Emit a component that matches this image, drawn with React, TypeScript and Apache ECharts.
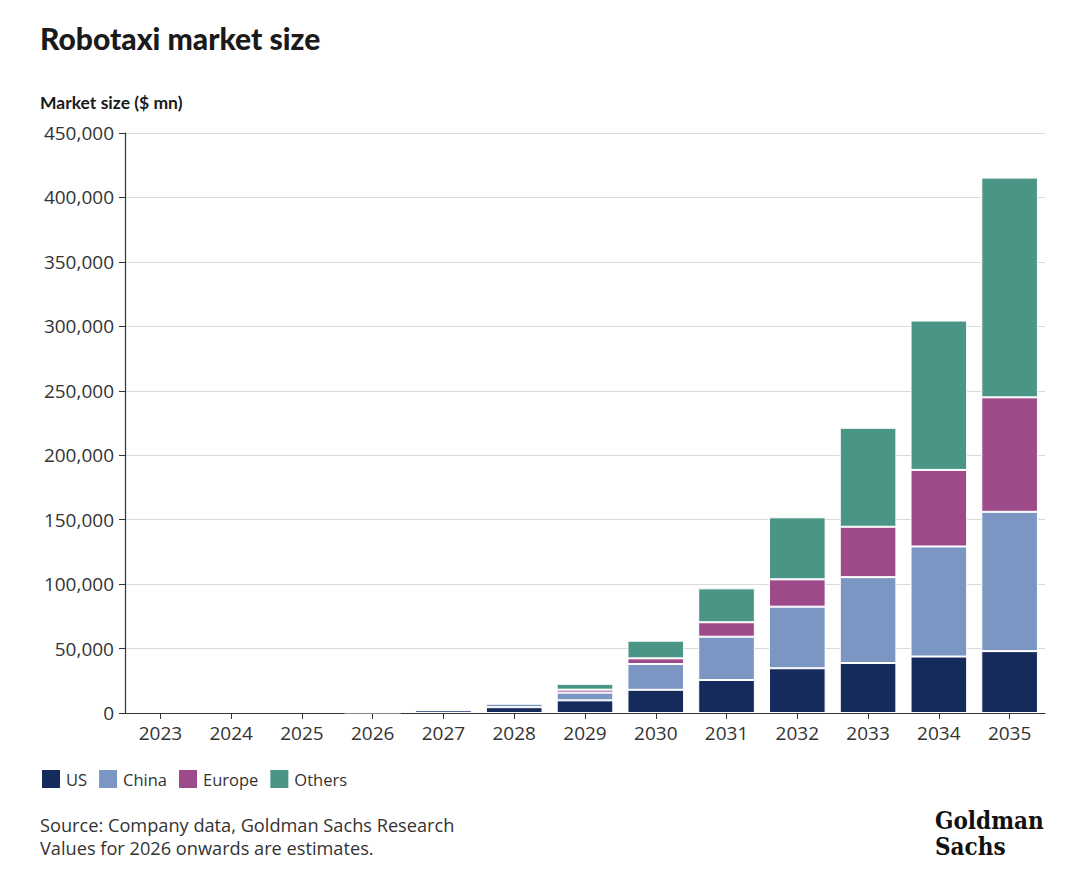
import React, { useEffect, useRef } from "react";
import * as echarts from "echarts";

const years = ["2023", "2024", "2025", "2026", "2027", "2028", "2029", "2030", "2031", "2032", "2033", "2034", "2035"];
const usValues = [0, 0, 0, 400, 2100, 4500, 9800, 18000, 25600, 34700, 38800, 43800, 48000];
const chinaValues = [0, 0, 0, 200, 100, 2700, 6000, 20000, 33600, 47800, 66600, 85400, 108100];
const europeValues = [0, 0, 0, 0, 0, 500, 2300, 4400, 11200, 21200, 39100, 59400, 88800];
const othersValues = [0, 0, 0, 0, 0, 800, 4500, 13700, 26300, 48100, 76800, 115900, 170500];
const seriesNames = ["US", "China", "Europe", "Others"];
const seriesColors = ["#152b5c", "#7b96c2", "#9c4a8a", "#4a9585"];

const FONT = "'Open Sans', 'Noto Sans', sans-serif";

export default function App() {
  const ref = useRef<HTMLDivElement>(null);
  useEffect(() => {
    if (!ref.current) return;
    const chart = echarts.init(ref.current, undefined, { renderer: "svg" });
    const data = [usValues, chinaValues, europeValues, othersValues];
    chart.setOption({
      animation: false,
      backgroundColor: "#ffffff",
      textStyle: { fontFamily: FONT },
      grid: { left: 125, right: 35, top: 133, bottom: 174 },
      legend: {
        left: 40,
        top: 768,
        padding: 0,
        icon: "rect",
        itemWidth: 20,
        itemHeight: 20,
        itemGap: 10,
        textStyle: { fontFamily: FONT, fontSize: 16.5, color: "#333333", padding: [0, 0, 0, 0] },
        data: seriesNames,
      },
      xAxis: {
        type: "category",
        data: years,
        axisLine: { show: true, lineStyle: { color: "#333333", width: 1.2 } },
        axisTick: { show: true, alignWithLabel: true, length: 6, lineStyle: { color: "#333333" } },
        axisLabel: { fontFamily: FONT, fontSize: 19, color: "#333333", margin: 10 },
      },
      yAxis: {
        type: "value",
        min: 0,
        max: 450000,
        interval: 50000,
        axisLine: { show: true, lineStyle: { color: "#333333", width: 1.2 } },
        axisTick: { show: true, length: 6, lineStyle: { color: "#333333" } },
        splitLine: { show: true, lineStyle: { color: "#d9d9d9", width: 1 } },
        axisLabel: {
          fontFamily: FONT,
          fontSize: 19,
          color: "#333333",
          margin: 11,
          formatter: (v: number) => v.toLocaleString("en-US"),
        },
      },
      series: seriesNames.map((name, i) => ({
        name,
        type: "bar",
        stack: "total",
        barCategoryGap: "20%",
        data: data[i].map((v) => (v === 0 ? "-" : v)),
        itemStyle: { color: seriesColors[i], borderColor: "#ffffff", borderWidth: 1 },
      })),
      graphic: [
        {
          type: "text",
          left: 40,
          top: 23,
          style: { text: "Robotaxi market size", font: "900 30px Lato, 'Open Sans', sans-serif", fill: "#1a1a1a" },
        },
        {
          type: "text",
          left: 40,
          top: 93,
          style: { text: "Market size ($ mn)", font: "bold 17.5px Lato, 'Open Sans', sans-serif", fill: "#1a1a1a" },
        },
        {
          type: "text",
          left: 40,
          top: 816,
          style: {
            text: "Source: Company data, Goldman Sachs Research",
            font: "18.2px 'Open Sans', sans-serif",
            fill: "#333333",
          },
        },
        {
          type: "text",
          left: 40,
          top: 839,
          style: {
            text: "Values for 2026 onwards are estimates.",
            font: "18.2px 'Open Sans', sans-serif",
            fill: "#333333",
          },
        },
        {
          type: "text",
          left: 935,
          top: 808,
          style: {
            text: "Goldman",
            font: "bold 24px 'DejaVu Serif Condensed', 'DejaVu Serif', serif",
            fill: "#111111",
          },
        },
        {
          type: "text",
          left: 935,
          top: 834,
          style: {
            text: "Sachs",
            font: "bold 24px 'DejaVu Serif Condensed', 'DejaVu Serif', serif",
            fill: "#111111",
          },
        },
      ],
    });
    return () => chart.dispose();
  }, []);
  return <div ref={ref} style={{ position: "fixed", left: 0, top: 0, width: 1080, height: 887 }} />;
}
